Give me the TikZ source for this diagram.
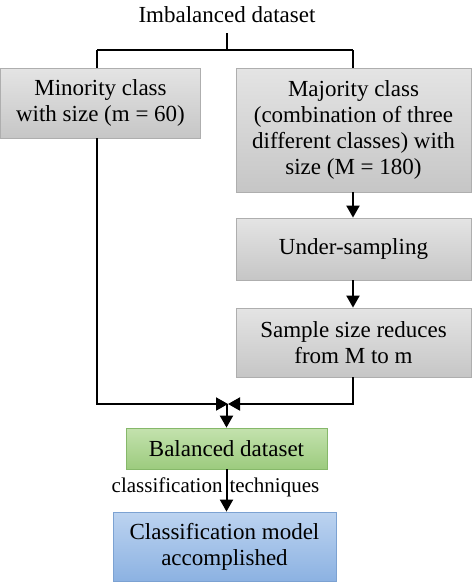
\documentclass[tikz,border=0pt]{standalone}
\usepackage{fontspec}
\setmainfont{Liberation Serif}
\usetikzlibrary{arrows.meta}
\definecolor{grayT}{HTML}{E4E4E4}
\definecolor{grayB}{HTML}{C6C6C6}
\definecolor{grayD}{HTML}{AEAEAE}
\definecolor{greenT}{HTML}{C4E2AE}
\definecolor{greenB}{HTML}{9CCB7E}
\definecolor{greenD}{HTML}{86B86A}
\definecolor{blueT}{HTML}{BCD3F0}
\definecolor{blueB}{HTML}{8CB2E2}
\definecolor{blueD}{HTML}{7CA2D2}
\tikzset{
  box/.style={draw=grayD, line width=0.8pt, top color=grayT, bottom color=grayB,
    align=center, inner sep=0pt, font=\fontsize{23}{26}\selectfont},
  gbox/.style={box, draw=greenD, top color=greenT, bottom color=greenB},
  bbox/.style={box, draw=blueD, top color=blueT, bottom color=blueB},
  conn/.style={line width=2pt, black},
  arr/.style={conn, -{Triangle[length=12pt,width=13pt]}},
}
\begin{document}
\begin{tikzpicture}[x=1pt,y=-1pt]
\useasboundingbox (0,0) rectangle (474,582);
\node[font=\fontsize{23}{26}\selectfont, inner sep=0pt] (title) at (227,15) {Imbalanced dataset};
\node[box, minimum width=200pt, minimum height=70pt] (minor) at (100.5,103) {Minority class\\with size (m = 60)};
\node[box, minimum width=235pt, minimum height=124pt] (major) at (353.5,130) {Majority class\\(combination of three\\different classes) with\\size (M = 180)};
\node[box, minimum width=235pt, minimum height=62pt] (under) at (353.5,249) {Under-sampling};
\node[box, minimum width=235pt, minimum height=69pt] (sample) at (353.5,342.5) {Sample size reduces\\from M to m};
\node[gbox, minimum width=201pt, minimum height=41pt] (bal) at (226.5,448.5) {Balanced dataset};
\node[bbox, minimum width=223pt, minimum height=69pt] (cls) at (224.5,546.5) {Classification model\\accomplished};
\coordinate (split) at (227,50);
\coordinate (sl) at (97,50);
\coordinate (sr) at (353,50);
\coordinate (ml) at (97,404);
\coordinate (mr) at (353,404);
\coordinate (meet) at (228,404);
\coordinate (drop) at (226.5,404);
\draw[conn] (title.south |- 33,33) -- (split);
\draw[conn] (sl) -- (sr);
\draw[conn] (sl) -- (sl |- minor.north);
\draw[conn] (sr) -- (sr |- major.north);
\draw[arr] (major.south -| sr) -- (under.north -| sr);
\draw[arr] (under.south -| sr) -- (sample.north -| sr);
\draw[arr] (minor.south -| sl) -- (ml) -- (meet);
\draw[arr] (sample.south -| sr) -- (mr) -- (meet);
\draw[arr] (drop) -- (bal.north -| drop);
\draw[arr] (bal.south -| drop) -- node[inner sep=0pt, font=\fontsize{21}{24}\selectfont, pos=0.43, xshift=-11pt] (lbl) {classification\,\,techniques} (cls.north -| drop);
\end{tikzpicture}
\end{document}
